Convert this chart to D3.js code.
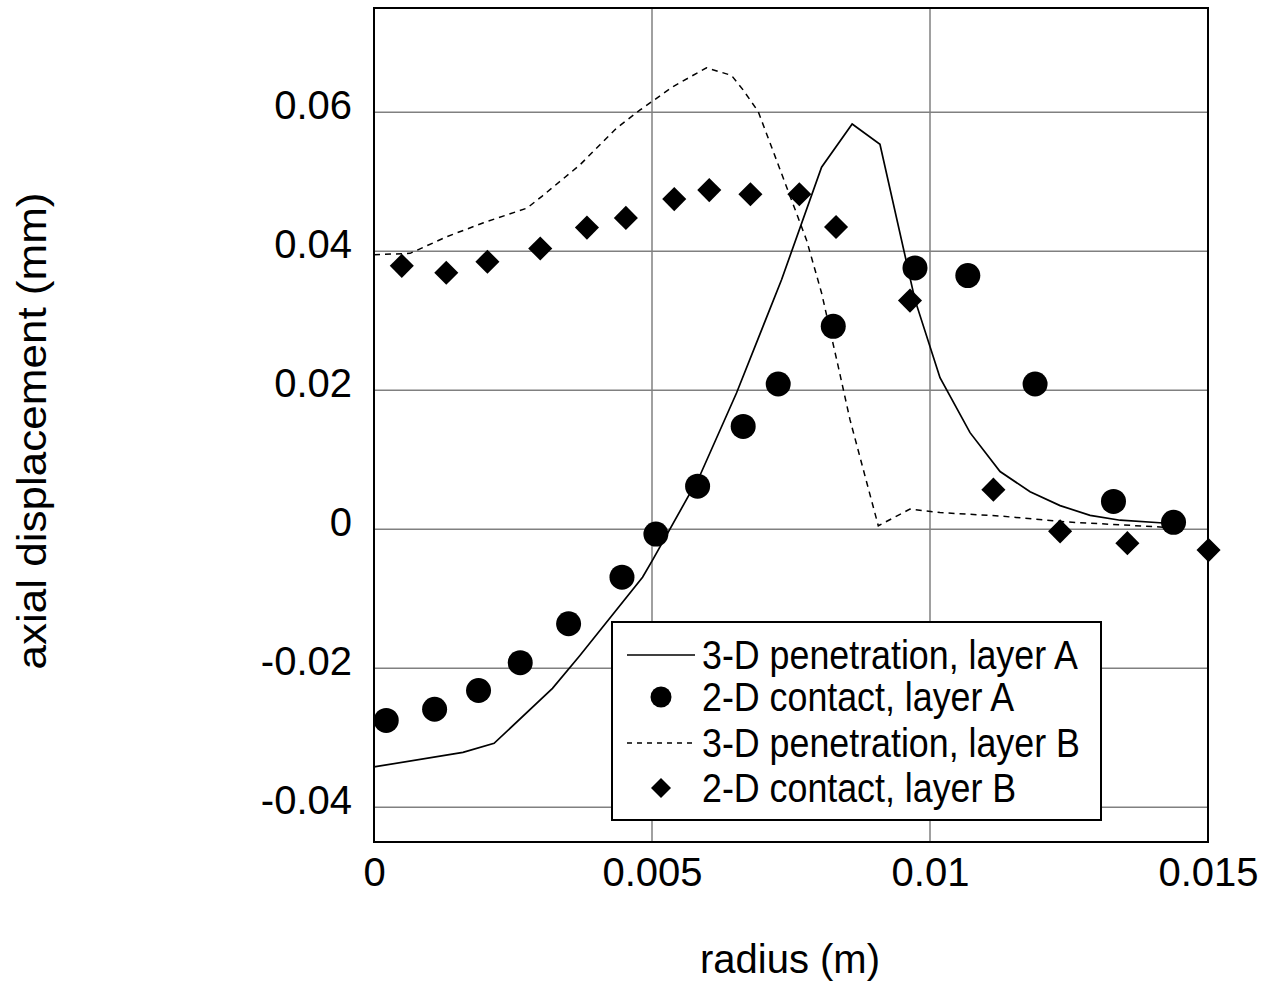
<!DOCTYPE html>
<html>
<head>
<meta charset="utf-8">
<script src="https://cdn.jsdelivr.net/npm/d3@7"></script>
<style>
  body { margin: 0; background: #fff; }
  svg text { font-family: "Liberation Sans", Arial, sans-serif; fill: #000; }
</style>
</head>
<body>
<div id="chart"></div>
<script>
// 3-D penetration, layer A (solid line)
const penAx = [0, 0.0016, 0.00216, 0.00321, 0.0037, 0.00483, 0.00502, 0.00586, 0.00652, 0.00733, 0.00805, 0.0086, 0.0091, 0.00973, 0.01018, 0.01072, 0.01126, 0.0118, 0.01234, 0.01288, 0.01342, 0.0142];
const penAy = [-0.0342, -0.0321, -0.0308, -0.0229, -0.0182, -0.0069, -0.0043, 0.0077, 0.0196, 0.0359, 0.0521, 0.0583, 0.0554, 0.033, 0.0218, 0.0139, 0.0083, 0.0054, 0.0034, 0.002, 0.0013, 0.0009];

// 2-D contact, layer A (circles)
const conAx = [0.00022, 0.00109, 0.00188, 0.00263, 0.0035, 0.00446, 0.00507, 0.00582, 0.00664, 0.00727, 0.00826, 0.00973, 0.01068, 0.01189, 0.0133, 0.01438];
const conAy = [-0.0275, -0.0259, -0.0232, -0.0192, -0.0136, -0.0069, -0.0007, 0.0062, 0.0148, 0.0209, 0.0292, 0.0376, 0.0365, 0.0209, 0.004, 0.001];

// 3-D penetration, layer B (dashed line)
const penBx = [0, 0.00065, 0.00131, 0.00197, 0.00275, 0.00302, 0.0037, 0.00436, 0.00478, 0.00538, 0.00598, 0.00643, 0.00664, 0.00691, 0.00724, 0.00778, 0.00805, 0.00835, 0.00856, 0.00907, 0.00964, 0.01018, 0.01126, 0.01246, 0.0142];
const penBy = [0.0395, 0.0397, 0.0421, 0.0441, 0.0462, 0.0479, 0.0524, 0.0577, 0.0603, 0.0637, 0.0664, 0.0653, 0.0632, 0.0601, 0.0531, 0.0416, 0.034, 0.0234, 0.0158, 0.0005, 0.0029, 0.0024, 0.0019, 0.00105, 0.0003];

// 2-D contact, layer B (diamonds)
const conBx = [0.0005, 0.0013, 0.00204, 0.00299, 0.00383, 0.00453, 0.0054, 0.00603, 0.00677, 0.00765, 0.00831, 0.00964, 0.01114, 0.01234, 0.01355, 0.01501];
const conBy = [0.0379, 0.0369, 0.0385, 0.0404, 0.0434, 0.0448, 0.0475, 0.0488, 0.0482, 0.0482, 0.0435, 0.0329, 0.0057, -0.0003, -0.002, -0.003];

const xTicks = [0, 0.005, 0.01, 0.015];
const xTickLabels = ["0", "0.005", "0.01", "0.015"];
const yTicks = [-0.04, -0.02, 0, 0.02, 0.04, 0.06];
const yTickLabels = ["-0.04", "-0.02", "0", "0.02", "0.04", "0.06"];

const legendLabels = ["3-D penetration, layer A", "2-D contact, layer A", "3-D penetration, layer B", "2-D contact, layer B"];

const zip = (xs, ys) => xs.map((x, i) => [x, ys[i]]);

//margins and dimensions
const margin = { top: 8, right: 59, bottom: 152, left: 374 },
    width = 1267 - margin.left - margin.right,
    height = 994 - margin.top - margin.bottom;

const svg = d3.select("#chart")
    .append("svg")
    .attr("width", 1267)
    .attr("height", 994);

const g = svg.append("g")
    .attr("transform", `translate(${margin.left}, ${margin.top})`);

const x = d3.scaleLinear().domain([0, 0.015]).range([0, width]);
const y = d3.scaleLinear().domain([-0.045, 0.075]).range([height, 0]);

// grid lines
g.append("g")
    .selectAll("line")
    .data(xTicks.slice(1, -1))
    .enter()
    .append("line")
    .attr("x1", d => x(d)).attr("x2", d => x(d))
    .attr("y1", 0).attr("y2", height)
    .attr("stroke", "#808080")
    .attr("stroke-width", 1.5);

g.append("g")
    .selectAll("line")
    .data(yTicks)
    .enter()
    .append("line")
    .attr("x1", 0).attr("x2", width)
    .attr("y1", d => y(d)).attr("y2", d => y(d))
    .attr("stroke", "#808080")
    .attr("stroke-width", 1.5);

// tick labels
const xAxis = g.append("g")
    .attr("transform", `translate(0, ${height})`)
    .call(d3.axisBottom(x).tickValues(xTicks).tickSize(0).tickPadding(0)
        .tickFormat((d, i) => xTickLabels[i]));
xAxis.select(".domain").remove();
xAxis.selectAll("text")
    .attr("y", 44)
    .attr("dy", null)
    .style("font-size", "40px");

const yAxis = g.append("g")
    .call(d3.axisLeft(y).tickValues(yTicks).tickSize(0).tickPadding(22)
        .tickFormat((d, i) => yTickLabels[i]));
yAxis.select(".domain").remove();
yAxis.selectAll("text")
    .attr("dy", "6px")
    .style("font-size", "40px");

// axis titles
svg.append("text")
    .attr("x", margin.left + width / 2 - 1)
    .attr("y", 973)
    .attr("text-anchor", "middle")
    .style("font-size", "40px")
    .text("radius (m)");

svg.append("text")
    .attr("transform", "rotate(-90)")
    .attr("x", -431)
    .attr("y", 46)
    .attr("text-anchor", "middle")
    .attr("textLength", 477)
    .attr("lengthAdjust", "spacingAndGlyphs")
    .style("font-size", "41px")
    .text("axial displacement (mm)");

// data lines
const line = d3.line().x(d => x(d[0])).y(d => y(d[1]));

g.append("path")
    .datum(zip(penAx, penAy))
    .attr("d", line)
    .attr("fill", "none")
    .attr("stroke", "#000")
    .attr("stroke-width", 1.7);

g.append("path")
    .datum(zip(penBx, penBy))
    .attr("d", line)
    .attr("fill", "none")
    .attr("stroke", "#000")
    .attr("stroke-width", 1.5)
    .attr("stroke-dasharray", "6,5");

// markers
g.append("g")
    .selectAll("circle")
    .data(zip(conAx, conAy))
    .enter()
    .append("circle")
    .attr("cx", d => x(d[0]))
    .attr("cy", d => y(d[1]))
    .attr("r", 12.5)
    .attr("fill", "#000");

const diamond = d3.symbol().type(d3.symbolSquare).size(290);
g.append("g")
    .selectAll("path")
    .data(zip(conBx, conBy))
    .enter()
    .append("path")
    .attr("d", diamond)
    .attr("transform", d => `translate(${x(d[0])}, ${y(d[1])}) rotate(45)`)
    .attr("fill", "#000");

// frame
g.append("rect")
    .attr("width", width)
    .attr("height", height)
    .attr("fill", "none")
    .attr("stroke", "#000")
    .attr("stroke-width", 2);

// legend
const legend = svg.append("g").attr("transform", "translate(612, 622)");
legend.append("rect")
    .attr("width", 489)
    .attr("height", 198)
    .attr("fill", "#fff")
    .attr("stroke", "#000")
    .attr("stroke-width", 2);

const rowY = [33, 75, 121, 166];
legend.append("line")
    .attr("x1", 15).attr("x2", 83)
    .attr("y1", rowY[0]).attr("y2", rowY[0])
    .attr("stroke", "#000").attr("stroke-width", 1.6);
legend.append("circle")
    .attr("cx", 49).attr("cy", rowY[1]).attr("r", 10.5)
    .attr("fill", "#000");
legend.append("line")
    .attr("x1", 15).attr("x2", 83)
    .attr("y1", rowY[2]).attr("y2", rowY[2])
    .attr("stroke", "#000").attr("stroke-width", 1.5)
    .attr("stroke-dasharray", "5,5");
legend.append("path")
    .attr("d", d3.symbol().type(d3.symbolSquare).size(200))
    .attr("transform", `translate(49, ${rowY[3]}) rotate(45)`)
    .attr("fill", "#000");

legend.selectAll(".ltext")
    .data(legendLabels)
    .enter()
    .append("text")
    .classed("ltext", true)
    .attr("transform", (d, i) => `translate(90, ${rowY[i] + 14}) scale(0.895, 1)`)
    .style("font-size", "40px")
    .text(d => d);
</script>
</body>
</html>
